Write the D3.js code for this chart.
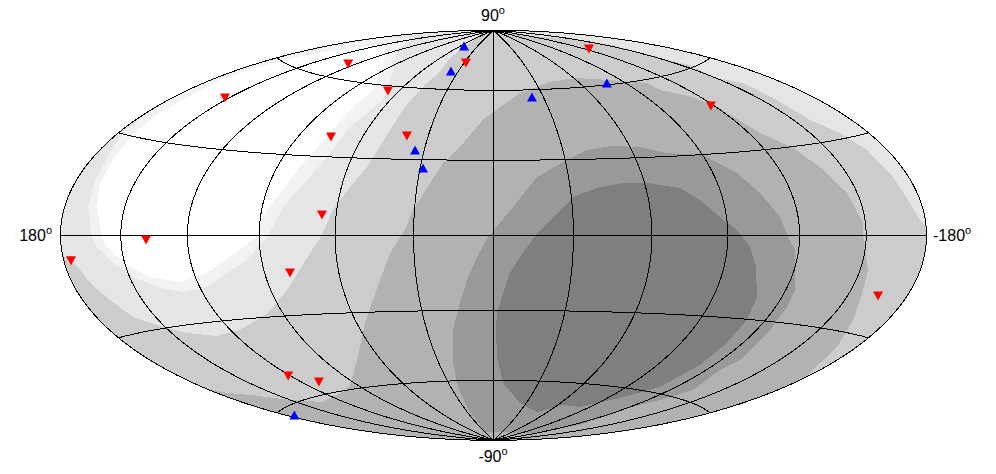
<!DOCTYPE html><html><head><meta charset="utf-8"></head><body style="margin:0;background:#fff"><svg id="c" width="996" height="474" style="display:block"></svg>
<script src="https://cdn.jsdelivr.net/npm/d3@7"></script><script>
// Shaded sky bands: rings of [longitude, latitude]
const bandE5Left=[[180,-5.5],[173.6,-9.1],[170.8,-14.0],[165.9,-19.5],[161.2,-25.3],[151.1,-29.6],[142.4,-32.5],[129.4,-34.8],[115.5,-33.7],[96.5,-28.5],[83.1,-20.4],[70.1,-6.7],[65.1,0.1],[61.5,9.7],[56.5,18.6],[52.0,26.6],[49.0,41.7],[48.6,50.3],[47.7,57.8],[46.7,62.5],[44.6,67.8],[49.7,74.5],[51.7,81.4],[71.4,86.9],[180,88.2]];
const bandE5Right=[[-180,89.1],[-114.7,87.4],[-122.1,84.3],[-144.7,80.5],[-155.4,73.1],[-149.2,65.6],[-155.4,60.8],[-149.7,55.8],[-158.4,51.7],[-158.0,44.7],[-158.4,37.1],[-165.1,31.7],[-169.5,25.7],[-171.9,17.1],[-174.2,9.3],[-177.2,4.3],[-180,2.3]];
const bandF2=[[163.9,-0.5],[161.8,-3.5],[155.5,-8.5],[148.4,-13.2],[138.2,-17.3],[128.6,-19.2],[116.8,-18.0],[105.7,-13.4],[95.9,-8.9],[86.8,-0.6],[81.5,10.5],[74.9,20.9],[70.8,29.9],[69.1,42.1],[64.1,53.9],[78.1,64.6],[120.5,74.3],[158.9,78.5],[180,75.1],[176.5,70.5],[180,66.0],[180,61.1],[180,56.2],[180,50.8],[180,44.7],[180,37.6],[177.5,30.2],[173.2,24.3],[170.4,16.3],[167.9,8.3]];
const bandWhite=[[159.0,-0.5],[156.9,-3.6],[149.1,-9.4],[140.4,-13.6],[127.7,-15.8],[114.3,-13.1],[102.8,-7.7],[90.9,-0.6],[90.0,5.6],[85.0,14.2],[80.2,25.7],[76.4,37.6],[76.6,48.8],[76.6,57.6],[90.9,66.1],[131.2,73.1],[149.1,74.1],[161.5,69.8],[168.2,65.3],[170.3,60.8],[174.8,55.7],[175.1,50.2],[173.1,43.6],[172.6,37.0],[171.4,29.7],[168.5,22.6],[167.0,15.6],[163.4,8.5]];
const bandB2=[[-180,-44.2],[-169.7,-34.4],[-162.1,-26.2],[-155.8,-17.0],[-153.7,-10.8],[-148.5,0.1],[-148.8,3.9],[-145.2,13.6],[-139.4,22.5],[-134.0,29.5],[-125.4,35.8],[-121.2,43.9],[-116.0,51.1],[-103.9,55.4],[-103.3,58.7],[-81.0,62.0],[-62.3,64.1],[-40.3,63.2],[-16.7,58.7],[-3.6,52.5],[5.3,46.9],[14.7,35.4],[20.9,28.8],[30.6,9.9],[33.3,2.1],[39.1,-6.9],[44.3,-17.4],[49.9,-26.4],[56.3,-34.2],[70.7,-47.6],[94.5,-58.3],[108.5,-60.7],[120.2,-61.4],[134.2,-62.1],[150.1,-58.8],[165.0,-53.9],[174.6,-51.3],[180,-48.2],[180,-90],[-180,-90]];
const band99=[[18.2,-38.0],[13.7,-27.0],[10.3,-17.7],[6.2,-8.6],[2.4,-1.1],[-1.7,4.1],[-7.4,11.2],[-17.4,23.1],[-28.9,29.1],[-40.5,33.7],[-51.3,35.0],[-64.4,34.2],[-74.9,31.3],[-90.2,29.8],[-100.4,22.5],[-106.4,15.0],[-112.2,6.4],[-115.0,-0.6],[-118.4,-5.1],[-124.1,-18.7],[-125.2,-24.6],[-126.9,-33.9],[-129.6,-44.0],[-127.3,-48.4],[-133.5,-56.4],[-127.9,-61.9],[-118.8,-68.3],[-127.4,-76.5],[-113.5,-83.5],[29.0,-85.3],[26.6,-72.4],[24.9,-62.8],[22.2,-52.1]];
const band7F=[[-16.3,0.9],[-21.3,6.0],[-30.6,15.0],[-40.5,18.5],[-51.3,20.3],[-61.0,20.1],[-73.8,17.8],[-80.6,13.1],[-87.3,6.7],[-93.8,1.9],[-99.3,-4.2],[-103.3,-11.3],[-108.9,-21.9],[-111.4,-30.2],[-112.3,-39.0],[-112.6,-47.8],[-110.5,-57.7],[-98.6,-64.1],[-81.8,-70.0],[-64.5,-70.0],[-48.9,-74.3],[-24.3,-70.5],[-6.4,-61.2],[-1.8,-49.6],[-1.1,-38.1],[-1.5,-31.1],[-3.8,-23.0],[-6.3,-14.9],[-10.0,-8.6]];
const sphereRing=[[180,-90],[180,90],[-180,90],[-180,-90]];
const bandFills=['#cccccc','#e5e5e5','#e5e5e5','#f2f2f2','#ffffff','#b2b2b2','#999999','#7f7f7f'];
// Markers
const redPoints=[[-126.8,74.9],[127.3,66.0],[28.7,73.1],[153.0,46.6],[67.4,58.2],[-118.9,47.5],[74.9,38.1],[40.0,39.9],[65.6,8.1],[138.3,-1.2],[176.1,-7.0],[79.5,-13.7],[-164.7,-18.0],[120.5,-51.3],[108.9,-55.1]];
const bluePoints=[[54.1,80.8],[36.3,68.5],[-23.2,56.8],[-78.1,60.8],[34.0,33.9],[28.8,26.6],[175.2,-62.3]];
// Graticule and labels
const meridians=[-150,-120,-90,-60,-30,0,30,60,90,120,150];
const parallels=[-60,-30,0,30,60];
const tickLabels=['90','-90','180','-180'];

const sx=d3.scaleLinear().domain([-1,1]).range([60.5,926.5]);
const sy=d3.scaleLinear().domain([-1,1]).range([440.3,30.3]);
const rad=Math.PI/180;
// Hammer equal-area projection, longitude growing to the left
function proj([lon,lat]){const l=-lon*rad/2,p=lat*rad,c=Math.cos(p),z=Math.sqrt(1+c*Math.cos(l));return [sx(c*Math.sin(l)/z),sy(Math.sin(p)/z)];}
// Follow the curved map edge between two points lying on it
function dens(r){const o=[];r.forEach((p,i)=>{const q=r[(i+1)%r.length];o.push(p);if(Math.abs(p[0])===180&&p[0]===q[0]){const n=Math.ceil(Math.abs(q[1]-p[1]));for(let j=1;j<n;j++)o.push([p[0],p[1]+(q[1]-p[1])*j/n]);}});return o;}
const line=d3.line();
const ringPath=r=>line(dens(r).map(proj))+'Z';
const svg=d3.select('#c');
const rings=[sphereRing,bandE5Left,bandE5Right,bandF2,bandWhite,bandB2,band99,band7F];
svg.append('g').attr('shape-rendering','crispEdges').selectAll('path').data(rings).join('path').attr('d',ringPath).attr('fill',(d,i)=>bandFills[i]);
const g=svg.append('g').attr('fill','none').attr('stroke','#000').attr('stroke-width',1).attr('shape-rendering','crispEdges');
const linePath=pts=>line(pts.map(proj));
g.selectAll('.m').data(meridians).join('path').attr('d',l=>linePath(d3.range(-90,91,3).map(t=>[l,t])));
g.selectAll('.p').data(parallels).join('path').attr('d',t=>linePath(d3.range(-180,181,5).map(l=>[l,t])));
g.append('path').attr('d',ringPath(sphereRing));
const down={draw(c){c.moveTo(-5,-3.5);c.lineTo(5,-3.5);c.lineTo(0,5.5);c.closePath();}};
const up={draw(c){c.moveTo(-5,4.5);c.lineTo(5,4.5);c.lineTo(0,-4.5);c.closePath();}};
svg.append('g').selectAll('path').data(redPoints).join('path').attr('fill','#ff0000').attr('d',d3.symbol().type(down)).attr('transform',d=>`translate(${proj(d)})`);
svg.append('g').selectAll('path').data(bluePoints).join('path').attr('fill','#0000ff').attr('d',d3.symbol().type(up)).attr('transform',d=>`translate(${proj(d)})`);
const labelAt=[[493,21,'middle'],[493,462,'middle'],[52,241,'end'],[933,241,'start']];
tickLabels.forEach((t,i)=>{const [x,y,an]=labelAt[i];const e=svg.append('text').attr('x',x).attr('y',y).attr('text-anchor',an).attr('font-family','Liberation Sans').attr('font-size',16);e.append('tspan').text(t);e.append('tspan').attr('font-size',11).attr('dy',-7).text('o');});
</script></body></html>
